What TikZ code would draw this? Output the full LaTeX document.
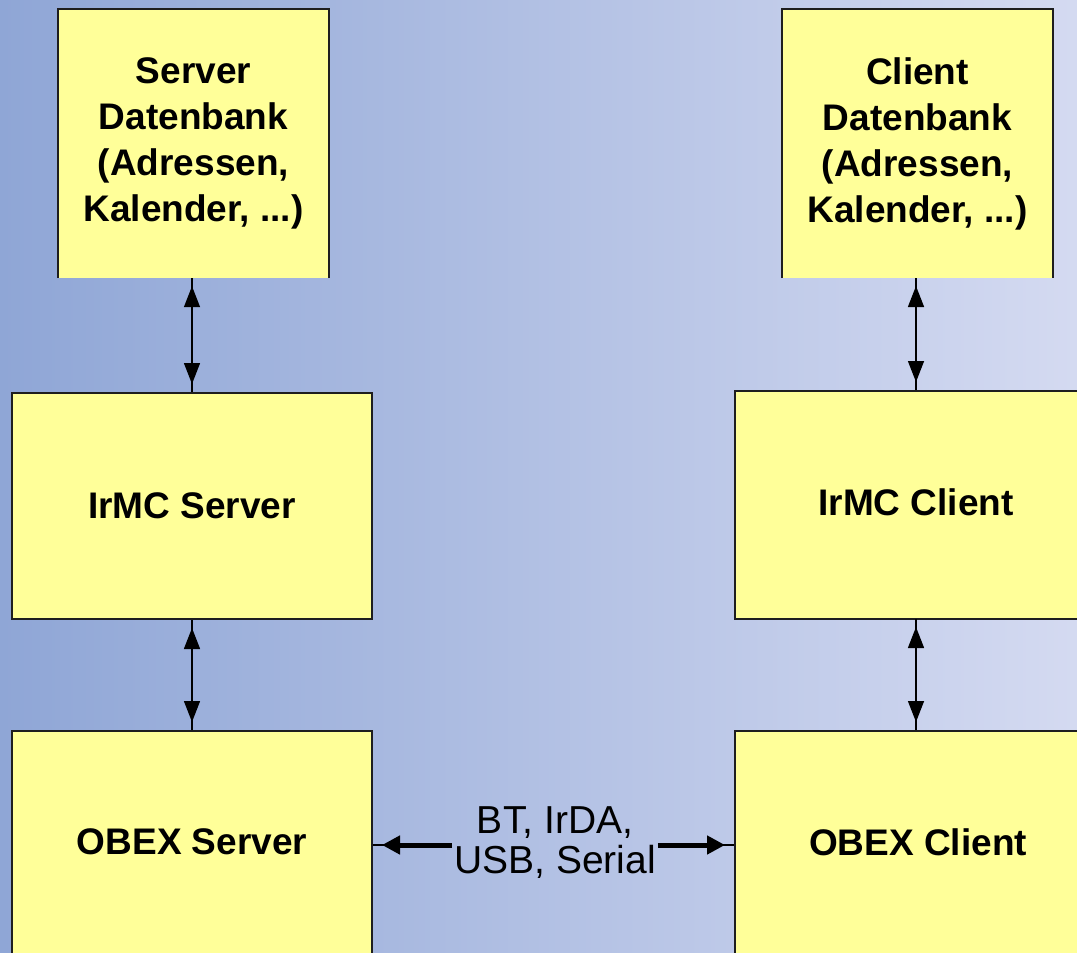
\documentclass[tikz,border=0pt]{standalone}
\usepackage{fontspec}
\setmainfont{Liberation Sans}
\usetikzlibrary{arrows.meta}

\definecolor{bgleft}{RGB}{143,166,214}
\definecolor{bgright}{RGB}{212,218,241}
\definecolor{boxfill}{RGB}{255,255,153}
\definecolor{boxline}{RGB}{30,30,30}

\tikzset{
  block/.style={fill=boxfill, draw=boxline, line width=2pt, inner sep=0pt},
  openblock/.style={fill=boxfill, draw=none, inner sep=0pt},
  blocktext/.style={align=center, font=\bfseries\fontsize{37}{46}\selectfont},
  medium/.style={align=center, inner sep=2pt, font=\fontsize{39}{40}\selectfont},
  thinlink/.style={line width=1.4pt, black},
  headlink/.style={line width=1.4pt, black,
    {Triangle[length=21pt,width=16pt]}-{Triangle[length=21pt,width=16pt]},
    shorten <=8pt, shorten >=8pt},
  buslink/.style={line width=5pt, black, -{Triangle[length=18pt,width=18pt]},
    shorten >=9pt},
}

\begin{document}
\begin{tikzpicture}[x=1pt,y=-1pt]
  % page and background
  \useasboundingbox (0,0) rectangle (1077,953);
  \clip (0,0) rectangle (1077,953);
  \shade[left color=bgleft, right color=bgright] (0,0) rectangle (1077,953);

  % server side
  \node[openblock, minimum width=271pt, minimum height=269pt] (sdb) at (193.5,143.5) {};
  \draw[boxline, line width=2pt] (sdb.south west) |- (sdb.north east) -- (sdb.south east);
  \node[blocktext] (sdbtext) at (sdb.center) {Server\\Datenbank\\(Adressen,\\Kalender, ...)};

  \node[block, minimum width=360pt, minimum height=226pt] (sirmc) at (192,506) {};
  \node[blocktext] (sirmctext) at (sirmc.center) {IrMC Server};

  \node[block, minimum width=360pt, minimum height=260pt] (sobex) at (192,861) {};
  \node[blocktext] (sobextext) at (192,842) {OBEX Server};

  % client side
  \node[openblock, minimum width=271pt, minimum height=269pt] (cdb) at (917.5,143.5) {};
  \draw[boxline, line width=2pt] (cdb.south west) |- (cdb.north east) -- (cdb.south east);
  \node[blocktext] (cdbtext) at (cdb.center) {Client\\Datenbank\\(Adressen,\\Kalender, ...)};

  \node[block, minimum width=360pt, minimum height=228pt] (cirmc) at (915,505) {};
  \node[blocktext] (cirmctext) at (916,502) {IrMC Client};

  \node[block, minimum width=360pt, minimum height=260pt] (cobex) at (915,861) {};
  \node[blocktext] (cobextext) at (918,842) {OBEX Client};

  % vertical links
  \draw[thinlink] (sirmc.north |- sdb.south) -- (sirmc.north);
  \draw[headlink] (sirmc.north |- sdb.south) -- (sirmc.north);
  \draw[thinlink] (sirmc.south) -- (sobex.north);
  \draw[headlink] (sirmc.south) -- (sobex.north);

  \draw[thinlink] (916,278) coordinate (cdbfoot) -- (cdbfoot |- cirmc.north) coordinate (cirmctop);
  \draw[headlink] (cdbfoot) -- (cirmctop);
  \draw[thinlink] (916,619) coordinate (cirmcfoot) -- (cirmcfoot |- cobex.north) coordinate (cobextop);
  \draw[headlink] (cirmcfoot) -- (cobextop);

  % transport link between the OBEX layers
  \node[medium] (bus) at (555,843) {BT, IrDA,\\USB, Serial};
  \coordinate (busl) at (bus.west |- 0,845);
  \coordinate (busr) at (bus.east |- 0,845);
  \draw[thinlink] (busl) -- (sobex.east |- busl);
  \draw[buslink] (busl) -- (sobex.east |- busl);
  \draw[thinlink] (busr) -- (cobex.west |- busr);
  \draw[buslink] (busr) -- (cobex.west |- busr);
\end{tikzpicture}
\end{document}
